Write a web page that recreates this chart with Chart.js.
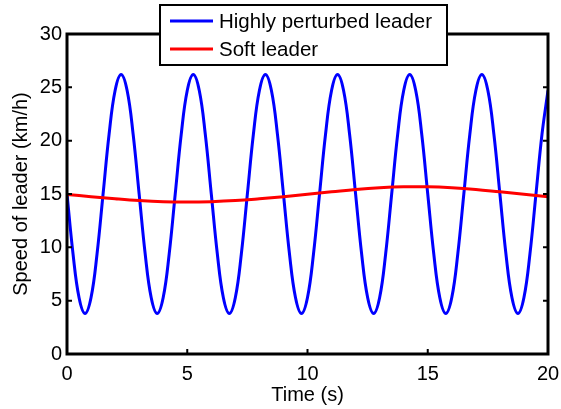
<!DOCTYPE html>
<html>
<head>
<meta charset="utf-8">
<script src="https://cdn.jsdelivr.net/npm/chart.js@4"></script>
<style>
  html, body { margin: 0; padding: 0; background: #fff; }
  #wrap { width: 561px; height: 409px; }
</style>
</head>
<body>
<div id="wrap"><canvas id="speedChart"></canvas></div>
<script>
// === Data ===
const perturbedTime = [
  0, 0.25, 0.5, 0.75, 1, 1.25, 1.5, 1.75, 2, 2.25, 2.5, 2.75,
  3, 3.25, 3.5, 3.75, 4, 4.25, 4.5, 4.75, 5, 5.25, 5.5, 5.75,
  6, 6.25, 6.5, 6.75, 7, 7.25, 7.5, 7.75, 8, 8.25, 8.5, 8.75,
  9, 9.25, 9.5, 9.75, 10, 10.25, 10.5, 10.75, 11, 11.25, 11.5, 11.75,
  12, 12.25, 12.5, 12.75, 13, 13.25, 13.5, 13.75, 14, 14.25, 14.5, 14.75,
  15, 15.25, 15.5, 15.75, 16, 16.25, 16.5, 16.75, 17, 17.25, 17.5, 17.75,
  18, 18.25, 18.5, 18.75, 19, 19.25, 19.5, 19.75, 20
];
const perturbedSpeed = [
  15.0, 9.4, 5.3, 3.8, 5.3, 9.4, 15.0, 20.6, 24.7, 26.2, 24.7, 20.6,
  15.0, 9.4, 5.3, 3.8, 5.3, 9.4, 15.0, 20.6, 24.7, 26.2, 24.7, 20.6,
  15.0, 9.4, 5.3, 3.8, 5.3, 9.4, 15.0, 20.6, 24.7, 26.2, 24.7, 20.6,
  15.0, 9.4, 5.3, 3.8, 5.3, 9.4, 15.0, 20.6, 24.7, 26.2, 24.7, 20.6,
  15.0, 9.4, 5.3, 3.8, 5.3, 9.4, 15.0, 20.6, 24.7, 26.2, 24.7, 20.6,
  15.0, 9.4, 5.3, 3.8, 5.3, 9.4, 15.0, 20.6, 24.7, 26.2, 24.7, 20.6,
  15.0, 9.4, 5.3, 3.8, 5.3, 9.4, 15.0, 20.6, 24.7
];
const softTime = [0, 1, 2, 3, 4, 5, 6, 7, 8, 9, 10, 11, 12, 13, 14, 15, 16, 17, 18, 19, 20];
const softSpeed = [
  14.95, 14.75, 14.55, 14.38, 14.27, 14.24, 14.28, 14.38, 14.55, 14.75,
  14.98, 15.2, 15.42, 15.58, 15.67, 15.67, 15.58, 15.42, 15.2, 14.98, 14.75
];
const xTicks = [0, 5, 10, 15, 20];
const yTicks = [0, 5, 10, 15, 20, 25, 30];

const FONT = '"Liberation Sans", Arial, sans-serif';
const FONT_SIZE = 20;

// === Box, inward ticks and legend (MATLAB look) ===
const boxPlugin = {
  id: 'matlabBox',
  afterDraw(chart) {
    const ctx = chart.ctx;
    const a = chart.chartArea;
    const xs = chart.scales.x;
    const ys = chart.scales.y;
    const tl = 5;
    ctx.save();
    ctx.strokeStyle = '#000';
    ctx.lineWidth = 2;
    ctx.beginPath();
    xTicks.forEach(v => {
      const px = xs.getPixelForValue(v);
      ctx.moveTo(px, a.bottom); ctx.lineTo(px, a.bottom - tl);
      ctx.moveTo(px, a.top); ctx.lineTo(px, a.top + tl);
    });
    yTicks.forEach(v => {
      const py = ys.getPixelForValue(v);
      ctx.moveTo(a.left, py); ctx.lineTo(a.left + tl, py);
      ctx.moveTo(a.right, py); ctx.lineTo(a.right - tl, py);
    });
    ctx.stroke();
    ctx.lineWidth = 3;
    ctx.strokeRect(a.left, a.top, a.right - a.left, a.bottom - a.top);

    // legend
    const bx = 160, by = 5, bw = 287, bh = 60;
    ctx.fillStyle = '#fff';
    ctx.fillRect(bx, by, bw, bh);
    ctx.lineWidth = 2;
    ctx.strokeRect(bx, by, bw, bh);
    ctx.font = '20.5px ' + FONT;
    ctx.textBaseline = 'middle';
    ctx.textAlign = 'left';
    const rows = [21, 49];
    chart.data.datasets.forEach(ds => {
      const ry = rows[ds.legendRow];
      ctx.strokeStyle = ds.borderColor;
      ctx.lineWidth = 3;
      ctx.beginPath();
      ctx.moveTo(170, ry); ctx.lineTo(213, ry);
      ctx.stroke();
      ctx.fillStyle = '#000';
      ctx.fillText(ds.label, 219, ry + 1);
    });
    ctx.restore();
  }
};

const ctx = document.getElementById('speedChart').getContext('2d');
new Chart(ctx, {
  type: 'line',
  data: {
    datasets: [{
      label: 'Soft leader',
      legendRow: 1,
      data: softTime.map((t, i) => ({ x: t, y: softSpeed[i] })),
      borderColor: '#ff0000',
      borderWidth: 3,
      pointRadius: 0,
      tension: 0.4,
      fill: false,
      order: 0
    }, {
      label: 'Highly perturbed leader',
      legendRow: 0,
      data: perturbedTime.map((t, i) => ({ x: t, y: perturbedSpeed[i] })),
      borderColor: '#0000ff',
      borderWidth: 3,
      pointRadius: 0,
      tension: 0.4,
      fill: false,
      order: 1
    }]
  },
  options: {
    responsive: true,
    maintainAspectRatio: false,
    animation: false,
    devicePixelRatio: 1,
    layout: { padding: { top: 34, right: 13, left: 0, bottom: 0 } },
    plugins: { legend: { display: false }, tooltip: { enabled: false } },
    scales: {
      x: {
        type: 'linear',
        min: 0,
        max: 20,
        afterFit(scale) {
          scale.height = 55;
          scale.paddingLeft = 0;
          scale.paddingRight = 0;
        },
        afterBuildTicks(scale) { scale.ticks = xTicks.map(v => ({ value: v })); },
        ticks: {
          color: '#000',
          padding: 8,
          maxRotation: 0,
          font: { family: FONT, size: FONT_SIZE }
        },
        grid: { display: false, drawTicks: false },
        border: { display: false },
        title: {
          display: true,
          text: 'Time (s)',
          color: '#000',
          padding: { top: 0, bottom: 2 },
          font: { family: FONT, size: FONT_SIZE }
        }
      },
      y: {
        min: 0,
        max: 30,
        afterFit(scale) {
          scale.width = 67;
          scale.paddingTop = 0;
          scale.paddingBottom = 0;
        },
        afterBuildTicks(scale) { scale.ticks = yTicks.map(v => ({ value: v })); },
        ticks: {
          color: '#000',
          padding: 5,
          font: { family: FONT, size: FONT_SIZE }
        },
        grid: { display: false, drawTicks: false },
        border: { display: false },
        title: {
          display: true,
          text: 'Speed of leader (km/h)',
          color: '#000',
          padding: { top: 9, bottom: 0 },
          font: { family: FONT, size: FONT_SIZE }
        }
      }
    }
  },
  plugins: [boxPlugin]
});
</script>
</body>
</html>
